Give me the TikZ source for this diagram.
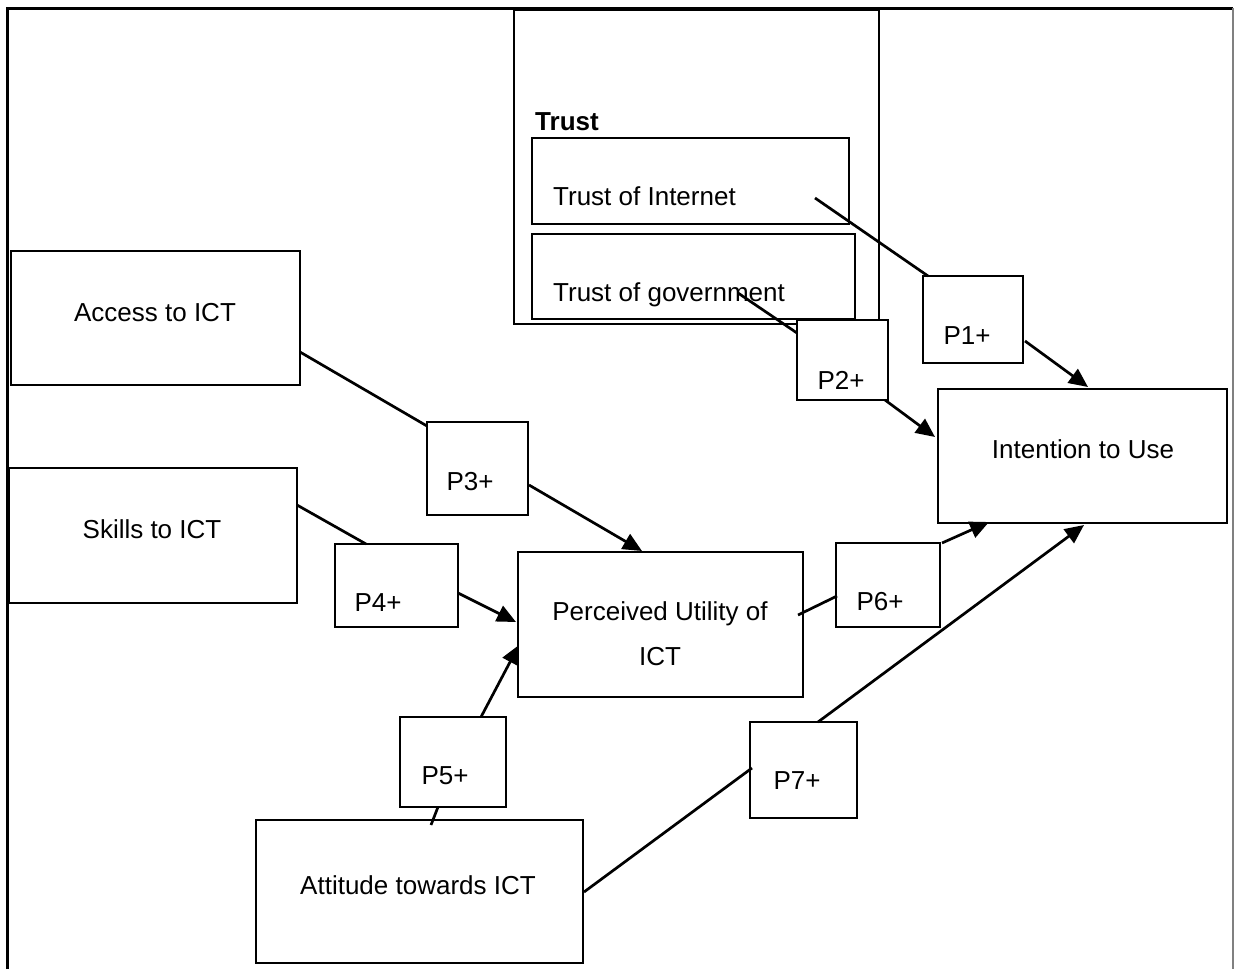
\documentclass[tikz,border=0pt]{standalone}
\usepackage{fontspec}
\setmainfont{Liberation Sans}
\usetikzlibrary{arrows.meta}
\begin{document}
\begin{tikzpicture}[x=1pt,y=-1pt,
  box/.style={draw=black,fill=white,line width=2.9pt,rectangle,inner sep=0pt},
  lbl/.style={font=\fontsize{26}{31}\selectfont,inner sep=0pt,anchor=base},
  lblw/.style={lbl,anchor=base west},
  conn/.style={line width=2.7pt},
  arr/.style={conn,-{Triangle[length=19pt,width=17pt]}}]
\useasboundingbox (0,0) rectangle (1234,969);
% frame
\draw[line width=3pt] (7,969) -- (7,8) -- (1233,8);
\draw[line width=2.2pt,gray] (1233,8) -- (1233,969);
% trust group
\node[box,minimum width=365pt,minimum height=314pt] (trust) at (696.5,167) {};
\node[lblw,font=\fontsize{26}{31}\selectfont\bfseries] (trustl) at (535,130) {Trust};
\node[box,minimum width=317pt,minimum height=86pt] (ti) at (690.5,181) {};
\node[lblw] (tit) at (553,205) {Trust of Internet};
\node[box,minimum width=323pt,minimum height=85pt] (tg) at (693.5,276.5) {};
\node[lblw] (tgt) at (553,301) {Trust of government};
% main constructs
\node[box,minimum width=289pt,minimum height=134pt] (access) at (155.5,318) {};
\node[lbl] (accesst) at (155,321) {Access to ICT};
\node[box,minimum width=288pt,minimum height=135pt] (skills) at (153,535.5) {};
\node[lbl] (skillst) at (152,538) {Skills to ICT};
\node[box,minimum width=327pt,minimum height=143pt] (att) at (419.5,891.5) {};
\node[lbl] (attt) at (418,894) {Attitude towards ICT};
\node[box,minimum width=285pt,minimum height=145pt] (pu) at (660.5,624.5) {};
\node[lbl] (put1) at (660,620) {Perceived Utility of};
\node[lbl] (put2) at (660,665) {ICT};
\node[box,minimum width=289pt,minimum height=134pt] (iu) at (1082.5,456) {};
\node[lbl] (iut) at (1083,458) {Intention to Use};
% proposition boxes
\node[box,minimum width=100pt,minimum height=87pt] (p1) at (973,319.5) {};
\node[lbl] (p1t) at (967,344) {P1+};
\node[box,minimum width=91pt,minimum height=80pt] (p2) at (842.5,360) {};
\node[lbl] (p2t) at (841,389) {P2+};
\node[box,minimum width=101pt,minimum height=93pt] (p3) at (477.5,468.5) {};
\node[lbl] (p3t) at (470,490) {P3+};
\node[box,minimum width=123pt,minimum height=83pt] (p4) at (396.5,585.5) {};
\node[lbl] (p4t) at (378,611) {P4+};
\node[box,minimum width=106pt,minimum height=90pt] (p5) at (453,762) {};
\node[lbl] (p5t) at (445,784) {P5+};
\node[box,minimum width=104pt,minimum height=84pt] (p6) at (888,585) {};
\node[lbl] (p6t) at (880,610) {P6+};
\node[box,minimum width=107pt,minimum height=96pt] (p7) at (803.5,770) {};
\node[lbl] (p7t) at (797,789) {P7+};
% connector end points
\coordinate (c1a) at (815,198);  \coordinate (c1b) at (928,276);
\coordinate (c2a) at (1025,341); \coordinate (c2b) at (1088,387);
\coordinate (c3a) at (738,293);  \coordinate (c3b) at (797,333);
\coordinate (c4a) at (885,400);  \coordinate (c4b) at (935,437);
\coordinate (c5a) at (300,352);  \coordinate (c5b) at (427,426);
\coordinate (c6a) at (529,485);  \coordinate (c6b) at (642,551);
\coordinate (c7a) at (297,505);  \coordinate (c7b) at (366,544);
\coordinate (c8a) at (458,593);  \coordinate (c8b) at (516,622);
\coordinate (c9a) at (431,825);  \coordinate (c9b) at (438,807);
\coordinate (c10a) at (481,717); \coordinate (c10b) at (519,645);
\coordinate (c11a) at (798,615); \coordinate (c11b) at (837,596);
\coordinate (c12a) at (942,543); \coordinate (c12b) at (989,522);
\coordinate (c13a) at (584,892); \coordinate (c13b) at (752,768);
\coordinate (c14a) at (818,722); \coordinate (c14b) at (1084,525);
% connectors
\draw[conn] (c1a) -- (c1b);
\draw[arr] (c2a) -- (c2b);
\draw[conn] (c3a) -- (c3b);
\draw[arr] (c4a) -- (c4b);
\draw[conn] (c5a) -- (c5b);
\draw[arr] (c6a) -- (c6b);
\draw[conn] (c7a) -- (c7b);
\draw[arr] (c8a) -- (c8b);
\draw[conn] (c9a) -- (c9b);
\draw[arr] (c10a) -- (c10b);
\draw[conn] (c11a) -- (c11b);
\draw[arr] (c12a) -- (c12b);
\draw[conn] (c13a) -- (c13b);
\draw[arr] (c14a) -- (c14b);
\end{tikzpicture}
\end{document}
